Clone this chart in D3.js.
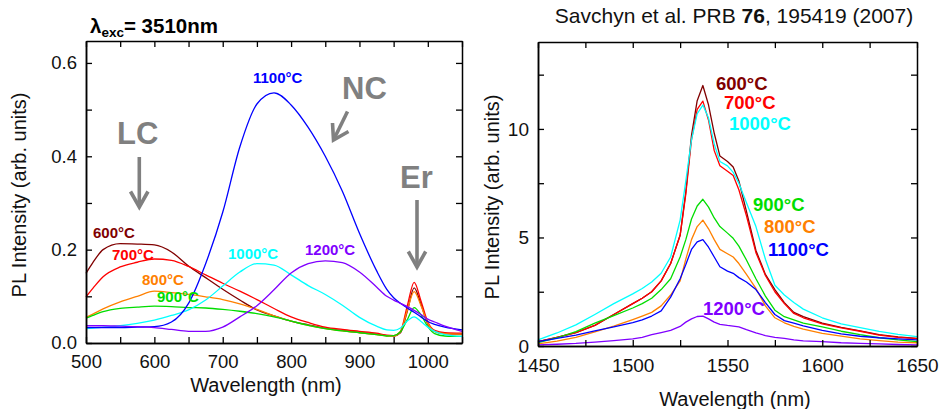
<!DOCTYPE html>
<html>
<head>
<meta charset="utf-8">
<script src="https://cdn.jsdelivr.net/npm/d3@7"></script>
<style>
  body { margin: 0; background: #fff; }
  svg { display: block; }
</style>
</head>
<body>
<svg id="chart" width="941" height="409"></svg>
<script>
// ---- Visible / near-IR PL spectra, excitation 3510 nm ----
const visWavelength = [500,510,525,550,575,600,625,650,675,700,725,750,775,800,825,850,875,900,925,940,950,960,970,980,990,1000,1010,1025,1050];
const vis600  = [.149,.172,.2,.213,.212,.21,.195,.165,.14,.115,.092,.071,.058,.047,.039,.032,.027,.023,.019,.016,.015,.022,.068,.118,.083,.04,.025,.02,.019];
const vis700  = [.099,.117,.142,.163,.173,.18,.177,.164,.146,.128,.111,.093,.074,.056,.044,.034,.029,.025,.021,.017,.016,.025,.08,.13,.09,.045,.027,.022,.021];
const vis800  = [.055,.062,.073,.088,.1,.111,.108,.104,.099,.093,.084,.072,.058,.047,.038,.031,.026,.022,.018,.015,.015,.024,.07,.11,.08,.042,.025,.02,.019];
const vis900  = [.053,.059,.067,.074,.077,.079,.078,.076,.075,.072,.068,.063,.056,.047,.038,.031,.026,.022,.018,.015,.016,.024,.05,.076,.06,.035,.02,.015,.014];
const vis1000 = [.031,.032,.034,.037,.042,.049,.059,.071,.092,.122,.152,.17,.167,.146,.123,.104,.081,.055,.036,.028,.027,.032,.047,.056,.046,.034,.025,.018,.014];
const vis1100 = [.033,.033,.033,.033,.034,.035,.045,.085,.17,.28,.42,.512,.536,.51,.462,.4,.325,.235,.155,.115,.097,.085,.075,.066,.056,.046,.04,.034,.028];
const vis1200 = [.037,.037,.037,.036,.035,.033,.029,.025,.025,.034,.056,.08,.114,.15,.17,.176,.172,.152,.12,.1,.092,.085,.078,.07,.061,.051,.045,.036,.025];
const visXTicks = [500,600,700,800,900,1000];
const visXMinor = [550,650,750,850,950,1050];
const visYTicks = [0,0.2,0.4,0.6];
const visYMinor = [0.1,0.3,0.5];

// ---- Er3+ 1.54 um emission band ----
const irWavelength = [1450,1460,1470,1480,1490,1500,1505,1510,1515,1520,1525,1528,1531,1534,1537,1540,1543,1546,1550,1553,1556,1560,1565,1570,1575,1580,1585,1590,1600,1610,1620,1630,1640,1650];
const ir600  = [.2,.4,.62,.95,1.45,1.95,2.2,2.5,3.0,3.8,5.1,7.1,9.7,11.3,12.0,11.1,9.8,8.75,8.5,8.25,7.6,6.2,4.4,3.3,2.6,2.0,1.55,1.35,1.05,.86,.7,.52,.42,.35];
const ir700  = [.2,.4,.62,.95,1.45,1.95,2.2,2.5,3.0,3.8,5.1,7.0,9.5,10.9,11.28,10.4,9.0,8.3,8.05,7.85,7.2,6.0,4.3,3.25,2.5,1.95,1.5,1.3,1.02,.83,.68,.5,.4,.34];
const ir800  = [.1,.22,.4,.65,.92,1.22,1.38,1.55,1.85,2.35,3.0,4.0,4.9,5.5,5.8,5.4,4.9,4.45,4.25,4.1,3.8,3.3,2.65,1.85,1.3,1.07,.9,.78,.58,.45,.33,.25,.18,.15];
const ir900  = [.15,.38,.66,1.05,1.4,1.75,1.95,2.2,2.6,3.1,4.1,4.9,5.85,6.45,6.76,6.4,5.9,5.5,5.2,4.96,4.6,3.96,3.1,2.3,1.65,1.35,1.2,1.05,.88,.68,.52,.38,.28,.2];
const ir1000 = [.28,.6,.97,1.45,1.95,2.4,2.65,2.95,3.35,4.1,5.8,7.6,9.5,10.7,11.1,10.5,9.3,8.5,8.3,8.0,7.5,6.6,5.5,4.0,2.8,2.35,2.0,1.7,1.3,1.02,.85,.67,.54,.43];
const ir1100 = [.2,.35,.5,.7,.88,1.08,1.2,1.38,1.62,2.25,3.1,3.75,4.45,4.8,4.9,4.55,4.1,3.65,3.45,3.35,3.15,2.95,2.6,2.0,1.45,1.17,1.05,.93,.72,.56,.45,.38,.33,.28];
const ir1200 = [.05,.08,.12,.18,.25,.33,.4,.52,.62,.72,.9,1.1,1.25,1.36,1.38,1.25,1.1,1.0,.95,.92,.88,.75,.6,.48,.4,.35,.28,.24,.2,.15,.12,.1,.07,.05];
const irXTicks = [1450,1500,1550,1600,1650];
const irXMinor = [1475,1525,1575,1625];
const irYTicks = [0,5,10];
const irYMinor = [2.5,7.5,12.5];

const temperatures = ["600°C","700°C","800°C","900°C","1000°C","1100°C","1200°C"];
const visSeries = [vis600, vis700, vis800, vis900, vis1000, vis1100, vis1200];
const irSeries  = [ir600, ir700, ir800, ir900, ir1000, ir1100, ir1200];

// ---- styling ----
const FONT = '"Liberation Sans", Arial, Helvetica, sans-serif';
const colorOf = {
  "600°C": "#800000", "700°C": "#ff0000", "800°C": "#ff8000", "900°C": "#00dd00",
  "1000°C": "#00ffff", "1100°C": "#0000ff", "1200°C": "#8000ff"
};
const GREY = "#808080";

const svg = d3.select("#chart");
svg.append("rect").attr("width", 941).attr("height", 409).attr("fill", "#fff");

function drawAxes(g, x, y, o) {
  const [x0, x1] = x.range();
  const [y0, y1] = y.range();
  const style = sel => {
    sel.attr("font-family", FONT).attr("font-size", o.tickFont);
    sel.select(".domain").attr("stroke", "#000").attr("stroke-width", 1.5);
    sel.selectAll(".tick line").attr("stroke", "#000").attr("stroke-width", 1.3);
    sel.selectAll(".tick text").attr("fill", "#111");
  };
  g.append("g").attr("transform", `translate(0,${y0})`)
    .call(d3.axisBottom(x).tickValues(o.xTicks).tickSize(-6).tickSizeOuter(0)
      .tickPadding(o.padX).tickFormat(d3.format("d"))).call(style);
  g.append("g").attr("transform", `translate(0,${y0})`)
    .call(d3.axisBottom(x).tickValues(o.xMinor).tickSize(-6).tickSizeOuter(0).tickFormat("")).call(style);
  g.append("g").attr("transform", `translate(0,${y1})`)
    .call(d3.axisTop(x).tickValues(o.xTicks.concat(o.xMinor)).tickSize(-6).tickSizeOuter(0).tickFormat("")).call(style);
  g.append("g").attr("transform", `translate(${x0},0)`)
    .call(d3.axisLeft(y).tickValues(o.yTicks).tickSize(-6).tickSizeOuter(0)
      .tickPadding(9).tickFormat(o.yFormat)).call(style);
  g.append("g").attr("transform", `translate(${x0},0)`)
    .call(d3.axisLeft(y).tickValues(o.yMinor).tickSize(-6).tickSizeOuter(0).tickFormat("")).call(style);
  g.append("g").attr("transform", `translate(${x1},0)`)
    .call(d3.axisRight(y).tickValues(o.yTicks.concat(o.yMinor)).tickSize(-6).tickSizeOuter(0).tickFormat("")).call(style);
}

function drawCurves(g, x, y, xs, series, curve) {
  const line = d3.line().x(d => x(d[0])).y(d => y(d[1])).curve(curve);
  series.forEach((vals, i) => {
    g.append("path")
      .datum(xs.map((w, j) => [w, vals[j]]))
      .attr("d", line)
      .attr("fill", "none")
      .attr("stroke", colorOf[temperatures[i]])
      .attr("stroke-width", 1.3)
      .attr("stroke-linejoin", "round");
  });
}

function addText(g, str, px, py, size, color, bold, anchor) {
  return g.append("text").attr("x", px).attr("y", py)
    .attr("font-family", FONT).attr("font-size", size)
    .attr("font-weight", bold ? "bold" : "normal")
    .attr("fill", color).attr("text-anchor", anchor || "start").text(str);
}

function arrow(g, pts, head) {
  g.append("path").attr("d", d3.line()(pts)).attr("stroke", GREY)
    .attr("stroke-width", 3.6).attr("fill", "none");
  g.append("path").attr("d", d3.line()(head)).attr("stroke", GREY)
    .attr("stroke-width", 3.6).attr("fill", "none").attr("stroke-linejoin", "miter");
}

// ================= left panel =================
const gL = svg.append("g");
const xL = d3.scaleLinear().domain([500, 1050]).range([86, 462]);
const yL = d3.scaleLinear().domain([0, 0.647]).range([343, 41]);

drawCurves(gL, xL, yL, visWavelength, visSeries, d3.curveMonotoneX);
drawAxes(gL, xL, yL, {
  xTicks: visXTicks, xMinor: visXMinor, yTicks: visYTicks, yMinor: visYMinor,
  yFormat: d3.format(".1f"), tickFont: 18.5, padX: 12
});

// excitation wavelength heading
const tL = gL.append("text").attr("x", 90).attr("y", 33)
  .attr("font-family", FONT).attr("font-weight", "bold").attr("font-size", 20.5).attr("fill", "#000");
tL.append("tspan").text("λ");
tL.append("tspan").attr("font-size", 13.5).attr("dy", 4).text("exc");
tL.append("tspan").attr("dy", -4).text("= 3510nm");

addText(gL, "Wavelength (nm)", 266, 392, 20, "#111", false, "middle");
addText(gL, "PL Intensity (arb. units)", 0, 0, 20, "#111", false, "middle")
  .attr("transform", "translate(26,195) rotate(-90)");

// temperature tags
const visTagPos = {
  "600°C": [93, 238], "700°C": [112, 260], "800°C": [142, 285], "900°C": [157, 301.5],
  "1000°C": [228, 259], "1100°C": [253, 83], "1200°C": [305, 255]
};
temperatures.forEach(t => addText(gL, t, visTagPos[t][0], visTagPos[t][1], 15, colorOf[t], true));

// emission band annotations
addText(gL, "LC", 117, 144, 31, GREY, true);
addText(gL, "NC", 342, 99, 31, GREY, true);
addText(gL, "Er", 400, 188, 31, GREY, true);
arrow(gL, [[139.3, 157], [139.3, 206]], [[130.5, 191.5], [139.3, 207], [148, 191.5]]);
arrow(gL, [[417, 200], [417, 266]], [[408.3, 251.5], [417, 267], [425.7, 251.5]]);
arrow(gL, [[347.5, 111.5], [334.5, 138]], [[332.5, 123], [333.5, 140], [348.5, 131.5]]);

// ================= right panel =================
const gR = svg.append("g");
const xR = d3.scaleLinear().domain([1450, 1650]).range([538, 917]);
const yR = d3.scaleLinear().domain([0, 14]).range([346, 42.1]);

drawCurves(gR, xR, yR, irWavelength, irSeries, d3.curveLinear);
drawAxes(gR, xR, yR, {
  xTicks: irXTicks, xMinor: irXMinor, yTicks: irYTicks, yMinor: irYMinor,
  yFormat: d3.format("d"), tickFont: 19, padX: 12.5
});

const tR = gR.append("text").attr("x", 734).attr("y", 23).attr("text-anchor", "middle")
  .attr("font-family", FONT).attr("font-size", 21).attr("fill", "#111");
tR.append("tspan").text("Savchyn et al. PRB ");
tR.append("tspan").attr("font-weight", "bold").text("76");
tR.append("tspan").text(", 195419 (2007)");

addText(gR, "Wavelength (nm)", 735, 406, 20, "#111", false, "middle");
addText(gR, "PL Intensity (arb. units)", 0, 0, 20, "#111", false, "middle")
  .attr("transform", "translate(499,197) rotate(-90)");

const irTagPos = {
  "600°C": [716, 90], "700°C": [724, 109], "1000°C": [729, 129.5], "900°C": [753, 210.5],
  "800°C": [764, 233], "1100°C": [768, 256], "1200°C": [703, 315]
};
temperatures.forEach(t => addText(gR, t, irTagPos[t][0], irTagPos[t][1], 18.5, colorOf[t], true));
</script>
</body>
</html>
